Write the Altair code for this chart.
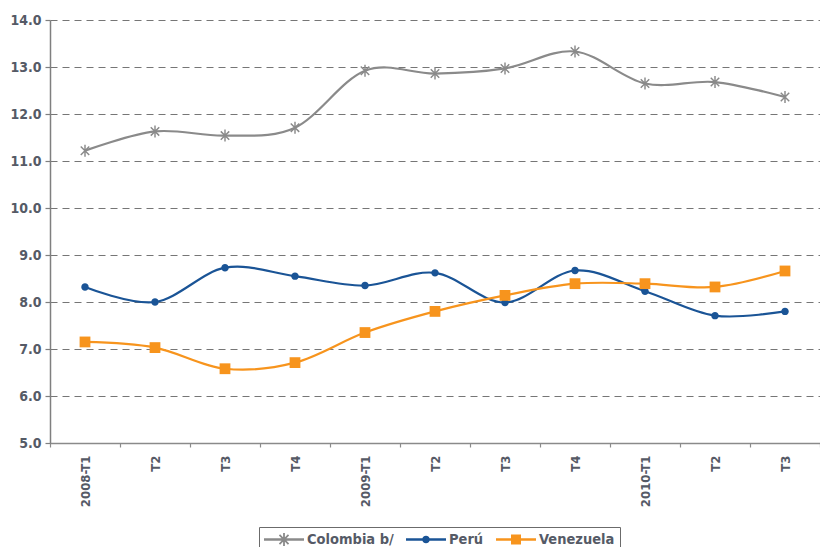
import math
import altair as alt
import pandas as pd

# ---------------- data ----------------
periods = ["2008-T1", "2008-T2", "2008-T3", "2008-T4",
           "2009-T1", "2009-T2", "2009-T3", "2009-T4",
           "2010-T1", "2010-T2", "2010-T3"]
tick_labels = ["2008-T1", "T2", "T3", "T4",
               "2009-T1", "T2", "T3", "T4",
               "2010-T1", "T2", "T3"]
series = ["Colombia b/", "Perú", "Venezuela"]
colombia = [11.22, 11.63, 11.54, 11.71, 12.92, 12.86, 12.97, 13.33, 12.65, 12.68, 12.36]
peru = [8.32, 8.00, 8.73, 8.55, 8.35, 8.62, 7.99, 8.67, 8.23, 7.71, 7.80]
venezuela = [7.15, 7.03, 6.58, 6.71, 7.35, 7.80, 8.14, 8.39, 8.39, 8.32, 8.66]
y_ticks = [5, 6, 7, 8, 9, 10, 11, 12, 13, 14]

rows = []
for name, vals in zip(series, [colombia, peru, venezuela]):
    for p, v in zip(periods, vals):
        rows.append({"periodo": p, "serie": name, "valor": v})
df = pd.DataFrame(rows)

# ---------------- styles ----------------
FONT = "Liberation Sans Narrow, Arial Narrow, DejaVu Sans Condensed, sans-serif"
TXT = "#555a66"
colors = ["#8a8a8a", "#1a5496", "#f7941d"]


def bar(theta_deg, L, w, cx=0.0):
    t = math.radians(theta_deg)
    dx, dy = math.cos(t) * L, math.sin(t) * L
    nx, ny = -math.sin(t) * w, math.cos(t) * w
    pts = [(-dx - nx, -dy - ny), (dx - nx, dy - ny), (dx + nx, dy + ny), (-dx + nx, -dy + ny)]
    return "M" + "L".join(f"{x + cx:.4f},{y:.4f}" for x, y in pts) + "Z"


def asterisk(L, w):
    return bar(90, L, w) + bar(45, L, w) + bar(135, L, w)


def circle(r):
    return f"M{-r:.4f},0A{r:.4f},{r:.4f} 0 1,1 {r:.4f},0A{r:.4f},{r:.4f} 0 1,1 {-r:.4f},0Z"


def square(s):
    return f"M{-s:.4f},{-s:.4f}L{s:.4f},{-s:.4f}L{s:.4f},{s:.4f}L{-s:.4f},{s:.4f}Z"


# plot markers: unit = 6 px (size 144)
plot_shapes = [asterisk(1.0, 0.12), circle(0.62), square(0.9)]
# legend symbols: unit = 20 px (size 1600)
line_seg = bar(0, 1.0, 0.06)
legend_shapes = [line_seg + asterisk(0.32, 0.045),
                 line_seg + circle(0.19),
                 line_seg + square(0.25)]

label_expr = "[" + ",".join(f"'{t}'" for t in tick_labels) + "][indexof([" + \
    ",".join(f"'{p}'" for p in periods) + "], datum.value)]"

X = alt.X("periodo:O", sort=periods,
          scale=alt.Scale(type="band", domain=periods, paddingInner=0, paddingOuter=0),
          axis=alt.Axis(title=None, labelAngle=270, labelExpr=label_expr, tickBand="extent",
                        domainColor="#8a8a8a", domainWidth=1.5, tickColor="#8a8a8a",
                        tickSize=4, tickWidth=1.2, labelPadding=8, labelFont=FONT,
                        labelFontSize=13, labelFontWeight="bold", labelColor=TXT, grid=False))
Y = alt.Y("valor:Q", scale=alt.Scale(domain=[5, 14], nice=False, zero=False),
          axis=alt.Axis(title=None, values=y_ticks, format=".1f", grid=True,
                        gridDash=[7, 5], gridColor="#767676", gridWidth=1.1,
                        domainColor="#7f7f7f", domainWidth=1.5, tickColor="#7f7f7f",
                        tickSize=5, tickWidth=1.2, labelPadding=4, labelFont=FONT,
                        labelFontSize=14, labelFontWeight="bold", labelColor=TXT))

color_scale = alt.Scale(domain=series, range=colors)

lines = alt.Chart(df).mark_line(interpolate="cardinal", strokeWidth=2.2).encode(
    x=X, y=Y, color=alt.Color("serie:N", scale=color_scale, legend=None))

points = alt.Chart(df).mark_point(filled=True, opacity=1, strokeWidth=0, size=144).encode(
    x=X, y=Y,
    color=alt.Color("serie:N", scale=color_scale, legend=None),
    shape=alt.Shape("serie:N", scale=alt.Scale(domain=series, range=plot_shapes), legend=None))

leg = dict(title=None, orient="none", legendX=209, legendY=507, direction="horizontal",
           strokeColor="#6b6b6b", fillColor="white", padding=5, labelFont=FONT,
           labelFontSize=14.5, labelFontWeight="bold", labelColor=TXT, labelOffset=3,
           columnPadding=12, symbolSize=1600, symbolStrokeWidth=0, clipHeight=15)

legend_layer = alt.Chart(df).transform_filter("false").mark_point(
    filled=True, opacity=1, size=1600).encode(
    x=X, y=Y,
    color=alt.Color("serie:N", scale=alt.Scale(domain=series, range=colors), legend=alt.Legend(**leg)),
    shape=alt.Shape("serie:N", scale=alt.Scale(domain=series, range=legend_shapes), legend=alt.Legend(**leg)))

chart = alt.layer(lines, points, legend_layer).resolve_scale(
    color="independent", shape="independent"
).properties(
    width=770, height=423,
    padding={"left": 42, "top": 12, "right": 0, "bottom": 104},
    autosize=alt.AutoSizeParams(type="none"),
).configure_view(stroke=None)

chart.save("out.html", embed_options={"renderer": "svg", "actions": False})
